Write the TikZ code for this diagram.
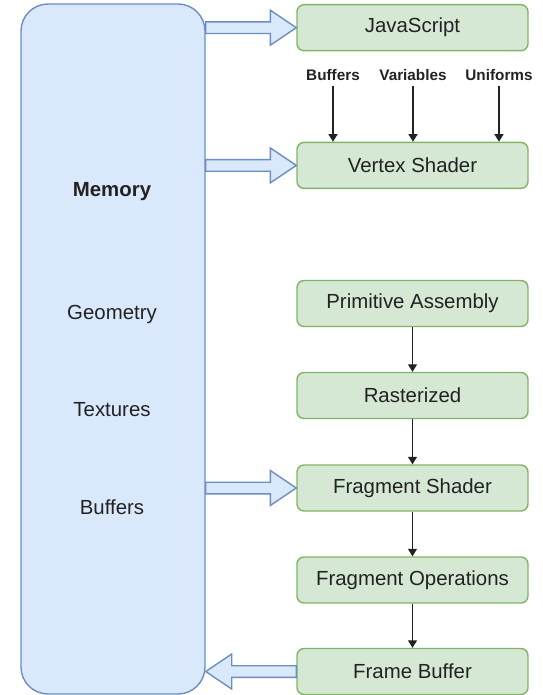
\documentclass[tikz,border=0pt]{standalone}
\usepackage{fontspec}
\setmainfont{Liberation Sans}
\usetikzlibrary{calc,arrows.meta}

\definecolor{memfill}{HTML}{DAE8FC}
\definecolor{memline}{HTML}{6C8EBF}
\definecolor{stagefill}{HTML}{D5E8D4}
\definecolor{stageline}{HTML}{82B366}
\definecolor{ink}{HTML}{222222}

\tikzset{
  x=1pt, y=-1pt,
  memory/.style={draw=memline, fill=memfill, line width=1.4pt,
    rounded corners=27pt, minimum width=184pt, minimum height=690pt},
  stage/.style={draw=stageline, fill=stagefill, line width=1.4pt,
    rounded corners=7pt, minimum width=231pt, minimum height=46pt,
    text=ink, font=\fontsize{20.4}{24}\selectfont},
  memlabel/.style={text=ink, font=\fontsize{20.4}{24}\selectfont},
  inputlabel/.style={text=ink, inner sep=0pt, anchor=base,
    font=\bfseries\fontsize{15.3}{18}\selectfont},
  flow/.style={draw=ink, line width=1.3pt,
    -{Triangle[width=9pt,length=7.5pt]}},
  fatarrow/.style={draw=memline, fill=memfill, line width=1.4pt,
    line join=miter},
}

% Hollow block arrow from tail #1 to tip #2
\newcommand\fatarrow[2]{%
  \coordinate (hb) at ($(#2)!26pt!(#1)$);
  \path[fatarrow]
    ($(#1)!5.8pt!90:(#2)$) -- ($(hb)!5.8pt!90:(#2)$)
    -- ($(hb)!17.5pt!90:(#2)$) -- (#2)
    -- ($(hb)!17.5pt!-90:(#2)$) -- ($(hb)!5.8pt!-90:(#2)$)
    -- ($(#1)!5.8pt!-90:(#2)$) -- cycle;
}

\begin{document}
\begin{tikzpicture}
\useasboundingbox (0,0) rectangle (542,695);

% memory column
\node[memory] (mem) at (113,349) {};
\node[memlabel, font=\bfseries\fontsize{20.4}{24}\selectfont] (memt) at (112,192) {Memory};
\node[memlabel] (geo) at (112,314) {Geometry};
\node[memlabel] (tex) at (112,410) {Textures};
\node[memlabel] (buf) at (112,507) {Buffers};

% pipeline stages
\node[stage] (js) at (412.5,27.7) {JavaScript};
\node[stage] (vs) at (412.5,165.4) {Vertex Shader};
\node[stage] (pa) at (412.5,303.5) {Primitive Assembly};
\node[stage] (ra) at (412.5,395.5) {Rasterized};
\node[stage] (fs) at (412.5,488) {Fragment Shader};
\node[stage] (fo) at (412.5,580) {Fragment Operations};
\node[stage] (fb) at (412.5,671.5) {Frame Buffer};

% vertex shader inputs
\node[inputlabel] (ib) at (333,80.5) {Buffers};
\node[inputlabel] (iv) at (413,80.5) {Variables};
\node[inputlabel] (iu) at (499,80.5) {Uniforms};
\foreach \n in {ib,iv,iu}
  \draw[flow] ([yshift=-5.5pt]\n.base) -- (\n |- vs.north);

% stage-to-stage flow
\draw[flow] (pa) -- (ra);
\draw[flow] (ra) -- (fs);
\draw[flow] (fs) -- (fo);
\draw[flow] (fo) -- (fb);

% memory transfers
\coordinate (m1) at (mem.east |- js.west);
\coordinate (m2) at (mem.east |- vs.west);
\coordinate (m3) at (mem.east |- fs.west);
\coordinate (m4) at (mem.east |- fb.west);
\fatarrow{m1}{js.west}
\fatarrow{m2}{vs.west}
\fatarrow{m3}{fs.west}
\fatarrow{fb.west}{m4}
\end{tikzpicture}
\end{document}
